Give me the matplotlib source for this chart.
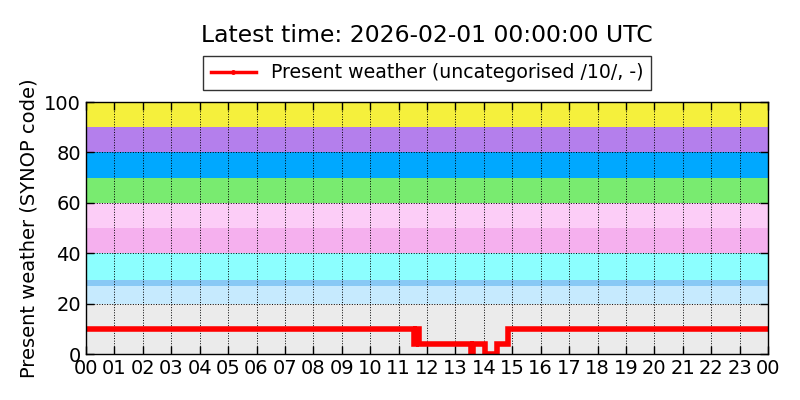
import numpy as np
import matplotlib
matplotlib.use('Agg')
import matplotlib.pyplot as plt
from matplotlib.lines import Line2D

# data (hours since 00 UTC, SYNOP present weather code)
hours = [0.0, 11.55, 11.6, 11.73, 13.55, 13.62, 14.03, 14.47, 14.85, 24.0]
ww = [10, 4, 10, 4, 0, 4, 0, 4, 10, 10]

hour_labels = ['%02d' % h for h in range(24)] + ['00']

# background bands (low, high, colour)
band_lo = [0, 20, 27, 29.5, 40, 50, 60, 70, 80, 90]
band_hi = [20, 27, 29.5, 40, 50, 60, 70, 80, 90, 100]
band_col = ['#ebebeb', '#c6eafe', '#88c9f5', '#8cffff', '#f5b0ee',
            '#fccdf7', '#79eb70', '#00a8ff', '#b47fec', '#f5f03c']

fig = plt.figure(figsize=(8, 4), dpi=100)
ax = fig.add_axes([0.1075, 0.115, 0.8525, 0.63])

for lo, hi, c in zip(band_lo, band_hi, band_col):
    ax.axhspan(lo, hi, color=c, lw=0, zorder=0)

ax.plot(hours, ww, color='red', lw=4, drawstyle='steps-post', zorder=3,
        solid_joinstyle='miter')

ax.set_xlim(0, 24)
ax.set_ylim(0, 100)
ax.set_xticks(range(25))
ax.set_xticklabels(hour_labels, fontsize=14)
ax.set_yticks(range(0, 101, 20))
ax.tick_params(axis='y', labelsize=14)
ax.tick_params(direction='in', top=True, right=True, length=6, width=1)
ax.grid(True, color='k', linestyle=':', lw=0.7, zorder=1)
ax.set_axisbelow(False)
for s in ax.spines.values():
    s.set_linewidth(1)
    s.set_zorder(4)

ax.set_ylabel('Present weather (SYNOP code)', fontsize=14)

handle = Line2D([], [], color='red', lw=2.5, marker='.', markersize=5)
fig.legend([handle], ['Present weather (uncategorised /10/, -)'],
           loc='center', bbox_to_anchor=(0.534, 0.8175), fontsize=13.6,
           frameon=True, fancybox=False, edgecolor='k', borderpad=0.4,
           handlelength=2.4)
fig.suptitle('Latest time: 2026-02-01 00:00:00 UTC', fontsize=16.9,
             x=0.534, y=0.94)

fig.savefig('out.png', dpi=100)
